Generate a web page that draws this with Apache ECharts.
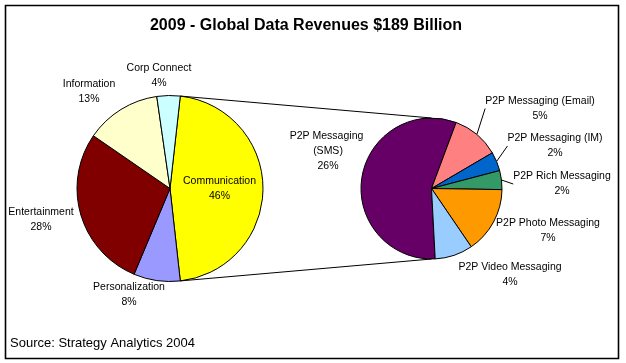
<!DOCTYPE html>
<html><head><meta charset="utf-8">
<script src="https://cdn.jsdelivr.net/npm/echarts@6/dist/echarts.min.js"></script>
<style>html,body{margin:0;padding:0;background:#fff}#c{width:626px;height:363px}</style>
</head><body><div id="c"></div>
<script>
const chartTitle = '2009 - Global Data Revenues $189 Billion';
const sourceNote = 'Source: Strategy Analytics 2004';
const mainCategories = ['Communication', 'Personalization', 'Entertainment', 'Information', 'Corp Connect'];
const mainValues = [46, 8, 28, 13, 4];
const subCategories = ['P2P Messaging (SMS)', 'P2P Messaging (Email)', 'P2P Messaging (IM)', 'P2P Rich Messaging', 'P2P Photo Messaging', 'P2P Video Messaging'];
const subValues = [26, 5, 2, 2, 7, 4];

const mainColors = ['#FFFF00', '#9999FF', '#800000', '#FFFFCC', '#CCFFFF'];
const subColors = ['#660066', '#FF8080', '#0066CC', '#339966', '#FF9900', '#99CCFF'];

const FONT = '"Liberation Sans", Arial, sans-serif';
const L = { c: [170, 188.5], r: 93 };
const R = { c: [431.5, 188.5], r: 70.5 };
const total = mainValues.reduce((a, b) => a + b, 0);
const leftStart = mainValues[0] / total * 360 / 2;
const rightStart = 273;

// label placement (layout only): offsets from each pie's centre
const mainLabelOffset = [null, [-41, 106], [-129, 31], [-81, -97], [-11, -113]];
const subLabelOffset = [[-103.5, -37.5], [108.5, -80], [123.5, -42.5], [130.5, -4.5], [116.5, 42], [78.5, 86]];
const subLeader = [false, true, true, true, false, false];

const rad = a => a * Math.PI / 180;
const pt = (P, a) => [P.c[0] + P.r * Math.cos(rad(a)), P.c[1] - P.r * Math.sin(rad(a))];
const a1 = pt(L, leftStart), b1 = pt(R, 90);
const a2 = pt(L, -leftStart), b2 = pt(R, 270);

const labelBase = {
  show: true, position: 'outside', color: '#000', fontFamily: FONT, fontSize: 10.5,
  lineHeight: 15, align: 'center', formatter: p => p.name + '\n' + p.value + '%'
};

const chart = echarts.init(document.getElementById('c'), null, { renderer: 'canvas' });
chart.setOption({
  animation: false,
  backgroundColor: '#fff',
  graphic: [
    { type: 'rect', shape: { x: 5.5, y: 5.5, width: 613, height: 353 }, style: { fill: 'none', stroke: '#000', lineWidth: 1.6 }, z: 0 },
    { type: 'text', x: 306, y: 26, style: { text: chartTitle, font: 'bold 16px ' + FONT, fill: '#000', textAlign: 'center', textVerticalAlign: 'middle' } },
    { type: 'text', x: 10, y: 343, style: { text: sourceNote, font: '13px ' + FONT, fill: '#000', textAlign: 'left', textVerticalAlign: 'middle' } },
    { type: 'line', shape: { x1: a1[0], y1: a1[1], x2: b1[0], y2: b1[1] }, style: { stroke: '#000', lineWidth: 1 }, z: 5 },
    { type: 'line', shape: { x1: a2[0], y1: a2[1], x2: b2[0], y2: b2[1] }, style: { stroke: '#000', lineWidth: 1 }, z: 5 }
  ],
  series: [
    {
      type: 'pie', center: L.c, radius: L.r, startAngle: leftStart, clockwise: true,
      avoidLabelOverlap: false, silent: true,
      itemStyle: { borderColor: '#000', borderWidth: 1 },
      label: labelBase,
      labelLine: { show: false },
      labelLayout: p => {
        const o = mainLabelOffset[p.dataIndex];
        if (!o) return {};
        return { x: L.c[0] + o[0], y: L.c[1] + o[1], align: 'center', verticalAlign: 'middle' };
      },
      data: mainCategories.map((n, i) => ({
        name: n, value: mainValues[i], itemStyle: { color: mainColors[i] },
        label: i === 0 ? { position: 'inside' } : {}
      }))
    },
    {
      type: 'pie', center: R.c, radius: R.r, startAngle: rightStart, clockwise: true,
      avoidLabelOverlap: false, silent: true,
      itemStyle: { borderColor: '#000', borderWidth: 1 },
      label: labelBase,
      labelLine: { show: true, length: 0, length2: 0, lineStyle: { color: '#000', width: 1 } },
      labelLayout: p => {
        const o = subLabelOffset[p.dataIndex];
        return { x: R.c[0] + o[0], y: R.c[1] + o[1], align: 'center', verticalAlign: 'middle' };
      },
      data: subCategories.map((n, i) => ({
        name: n, value: subValues[i], itemStyle: { color: subColors[i] },
        label: i === 0 ? { width: 80, overflow: 'break' } : {},
        labelLine: { show: subLeader[i] }
      }))
    }
  ]
});
</script>
</body></html>
